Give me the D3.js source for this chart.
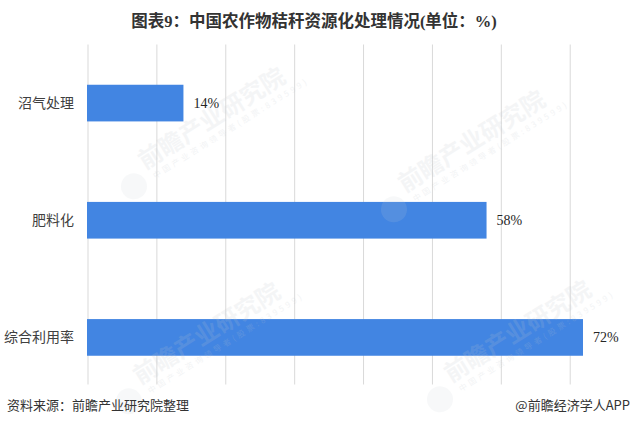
<!DOCTYPE html>
<html>
<head>
<meta charset="utf-8">
<script src="https://cdn.jsdelivr.net/npm/d3@7/dist/d3.min.js"></script>
<style>
  html, body { margin: 0; padding: 0; background: #fff; }
  svg { display: block; }
</style>
</head>
<body>
<svg id="chart" width="631" height="424"></svg>
<script>
// ---- data ----
const categories = ["沼气处理", "肥料化", "综合利用率"];
const values = [14, 58, 72];
const tickValues = [0, 10, 20, 30, 40, 50, 60, 70];
const title = "图表9：中国农作物秸秆资源化处理情况(单位：%)";
const sourceText = "资料来源：前瞻产业研究院整理";
const brandText = "@前瞻经济学人APP";

const W = 631, H = 424;
const svg = d3.select("#chart");

const x = d3.scaleLinear().domain([0, 80]).range([87, 638.1]);
const y = d3.scaleBand().domain(categories).range([44.5, 396])
  .paddingInner(0.687).paddingOuter(0.3435);

const gridTop = 44.5, gridBottom = 384.5;

// gridlines via axis
const grid = svg.append("g")
  .attr("transform", `translate(0.5,${gridTop})`)
  .call(d3.axisTop(x).tickValues(tickValues).tickSize(-(gridBottom - gridTop)).tickFormat(""));
grid.select(".domain").remove();
grid.selectAll(".tick line").attr("stroke", "#d9d9d9").attr("stroke-width", 1);

// bars
svg.append("g").selectAll("rect")
  .data(categories)
  .join("rect")
  .attr("x", x(0))
  .attr("y", d => y(d))
  .attr("width", (d, i) => x(values[i]) - x(0))
  .attr("height", y.bandwidth())
  .attr("fill", "#4285e2");

// value labels
svg.append("g").selectAll("text")
  .data(categories)
  .join("text")
  .attr("x", (d, i) => x(values[i]) + 10)
  .attr("y", d => y(d) + y.bandwidth() / 2)
  .attr("dy", "0.36em")
  .attr("font-family", "'Liberation Serif', 'Times New Roman', serif")
  .attr("font-size", 14)
  .attr("fill", "#262626")
  .text((d, i) => values[i] + "%");

// category labels
svg.append("g").selectAll("text")
  .data(categories)
  .join("text")
  .attr("x", 74)
  .attr("y", d => y(d) + y.bandwidth() / 2)
  .attr("dy", "0.36em")
  .attr("text-anchor", "end")
  .attr("font-family", "'Noto Sans CJK SC', sans-serif")
  .attr("font-size", 14)
  .attr("fill", "#404040")
  .text(d => d);

// watermarks (faint decoration)
const wm = svg.append("g").attr("pointer-events", "none");
const wmSpots = [[145, 170], [405, 193], [140, 385], [451, 383]];
wmSpots.forEach(([wx, wy]) => {
  const g = wm.append("g").attr("transform", `translate(${wx},${wy}) rotate(-32)`);
  g.append("circle").attr("cx", -18).attr("cy", 8).attr("r", 13)
    .attr("fill", "#c4ccd4").attr("opacity", 0.14);
  g.append("text").attr("x", 0).attr("y", 0)
    .attr("font-family", "'Noto Sans CJK SC', sans-serif")
    .attr("font-weight", "bold").attr("font-size", 24)
    .attr("fill", "#c0c7ce").attr("opacity", 0.16)
    .text("前瞻产业研究院");
  g.append("text").attr("x", 4).attr("y", 13)
    .attr("font-family", "'Noto Sans CJK SC', sans-serif")
    .attr("font-size", 8).attr("letter-spacing", 3)
    .attr("fill", "#c0c7ce").attr("opacity", 0.2)
    .text("中国产业咨询领导者(股票:839599)");
});

// title
svg.append("text")
  .attr("x", 314).attr("y", 21)
  .attr("dy", "0.36em")
  .attr("text-anchor", "middle")
  .attr("font-family", "'Liberation Serif', 'Noto Sans CJK SC', serif")
  .attr("font-weight", "bold")
  .attr("font-size", 16.5)
  .attr("fill", "#333333")
  .text(title);

// footer
svg.append("text")
  .attr("x", 7).attr("y", 405)
  .attr("dy", "0.36em")
  .attr("font-family", "'Noto Sans CJK SC', sans-serif")
  .attr("font-size", 13)
  .attr("fill", "#333333")
  .text(sourceText);

svg.append("text")
  .attr("x", 630).attr("y", 405)
  .attr("dy", "0.36em")
  .attr("text-anchor", "end")
  .attr("font-family", "'Noto Sans CJK SC', sans-serif")
  .attr("font-size", 13)
  .attr("fill", "#333333")
  .text(brandText);
</script>
</body>
</html>
